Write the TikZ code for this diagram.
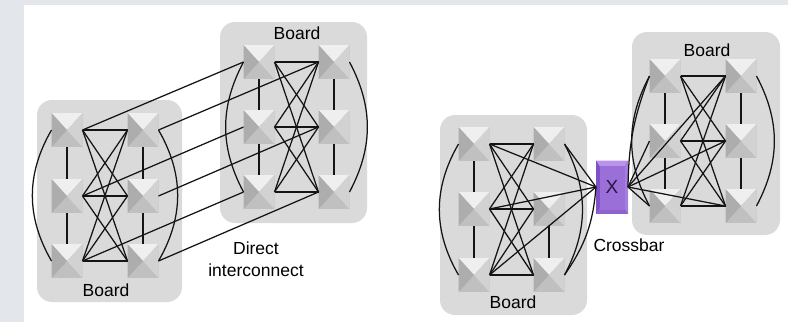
\documentclass[tikz,border=0pt]{standalone}
\usepackage{fontspec}
\setmainfont{Liberation Sans}
\definecolor{bgstrip}{HTML}{E3E6EB}
\definecolor{boardfill}{HTML}{DADADA}
\definecolor{chipT}{HTML}{EFEFEF}
\definecolor{chipL}{HTML}{ADADAD}
\definecolor{chipR}{HTML}{D2D2D2}
\definecolor{chipB}{HTML}{C0C0C0}
\definecolor{xbarM}{HTML}{9B6FD8}
\definecolor{xbarL}{HTML}{7E52C4}
\definecolor{xbarT}{HTML}{B895EA}
\definecolor{xbarR}{HTML}{A57EDE}
\definecolor{xbarB}{HTML}{8F62D0}
\definecolor{xtext}{HTML}{2A1744}
\newcommand{\chipbevel}[4]{%
  \fill[#4] (path picture bounding box.south west) rectangle (path picture bounding box.north east);
  \fill[#1] (path picture bounding box.north west) -- (path picture bounding box.north east) -- (path picture bounding box.center) -- cycle;
  \fill[#2] (path picture bounding box.north west) -- (path picture bounding box.south west) -- (path picture bounding box.center) -- cycle;
  \fill[#3] (path picture bounding box.north east) -- (path picture bounding box.south east) -- (path picture bounding box.center) -- cycle;
}
\tikzset{
  chip/.style={minimum width=31pt,minimum height=34pt,inner sep=0pt,outer sep=0pt,
    path picture={\chipbevel{chipT}{chipL}{chipR}{chipB}}},
  xbar/.style={minimum width=32pt,minimum height=53pt,inner sep=0pt,outer sep=0pt,
    path picture={\chipbevel{xbarT}{xbarL}{xbarR}{xbarB}
      \fill[xbarM] ([shift={(4pt,4pt)}]path picture bounding box.south west) rectangle ([shift={(-3pt,-5pt)}]path picture bounding box.north east);},
    text=xtext, font=\fontsize{19}{22}\selectfont},
  board/.style={fill=boardfill, rounded corners=15pt, inner sep=0pt},
  lbl/.style={font=\fontsize{17.5}{22}\selectfont, text=black, inner sep=0pt},
  conn/.style={draw=black!92, line width=1.25pt}
}
\begin{document}
\begin{tikzpicture}[x=1pt,y=1pt]
\useasboundingbox (0,0) rectangle (788,-322);
\fill[white] (0,0) rectangle (788,-322);
\fill[bgstrip] (0,0) rectangle (788,-5);
\fill[bgstrip] (0,0) rectangle (24,-322);
% boards
\node[board, minimum width=145pt, minimum height=202pt] (B1) at (109.5,-201) {};
\node[board, minimum width=147pt, minimum height=201pt] (B2) at (293.5,-122.5) {};
\node[board, minimum width=147pt, minimum height=200pt] (B3) at (513.5,-215) {};
\node[board, minimum width=148pt, minimum height=203pt] (B4) at (706,-133.5) {};
% chips
\foreach \n/\x/\y in {a1/67/130,a2/67/196,a3/67/261,a4/143/130,a5/143/196,a6/143/261,
                      b1/259/62,b2/259/127,b3/259/192,b4/334/62,b5/334/127,b6/334/192,
                      c1/474/144,c2/474/209,c3/474/275,c4/549/144,c5/549/209,c6/549/275,
                      d1/665/76,d2/665/141,d3/665/206,d4/741/76,d5/741/141,d6/741/206}
  \node[chip] (\n) at (\x,-\y) {};
\node[xbar] (xb) at (612,-187) {X};
% labels
\node[lbl] (l1) at (106,-290) {Board};
\node[lbl] (l2) at (297,-33) {Board};
\node[lbl] (l3) at (513,-302) {Board};
\node[lbl] (l4) at (707,-50) {Board};
\node[lbl, align=center] (di) at (256,-259) {Direct\\interconnect};
\node[lbl] (cb) at (629,-245) {Crossbar};
% internal full bipartite links
\foreach \b in {a,b,c,d}{
  \foreach \p in {1,2,3}{
    \foreach \q in {4,5,6}{
      \draw[conn] (\b\p.east) -- (\b\q.west);
    }
  }
}
% vertical links
\foreach \b in {a,b,d}{
  \draw[conn] (\b1.south) -- (\b2.north);
  \draw[conn] (\b2.south) -- (\b3.north);
  \draw[conn] (\b4.south) -- (\b5.north);
  \draw[conn] (\b5.south) -- (\b6.north);
}
\draw[conn] (c1.south) -- (c2.north);
\draw[conn] (c2.south) -- (c3.north);
\draw[conn] (c5.south) -- (c6.north);
% outer arcs
\draw[conn] (a1.west) to[bend right=30] (a3.west);
\draw[conn] (a4.east) to[bend left=30] (a6.east);
\draw[conn] (b1.west) to[bend right=28] (b3.west);
\draw[conn] (b4.east) to[bend left=28] (b6.east);
\draw[conn] (c1.west) to[bend right=30] (c3.west);
\draw[conn] (c4.east) to[bend left=28] (c6.east);
\draw[conn] (d1.west) to[bend right=28] (d3.west);
\draw[conn] (d4.east) to[bend left=28] (d6.east);
% direct interconnect
\draw[conn] (a1.east) -- (b1.west);
\draw[conn] (a4.east) -- (b4.west);
\draw[conn] (a2.east) -- (b2.west);
\draw[conn] (a5.east) -- (b5.west);
\draw[conn] (a3.east) -- (b3.west);
\draw[conn] (a6.east) -- (b6.west);
% crossbar links
\draw[conn] (c1.east) -- (xb.west);
\draw[conn] (c2.east) -- (xb.west);
\draw[conn] (c3.east) -- (xb.west);
\draw[conn] (c4.east) -- (xb.west);
\draw[conn] (c6.east) to[bend right=15] (xb.west);
\draw[conn] (xb.east) to[bend left=10] (d1.west);
\draw[conn] (xb.east) -- (d2.west);
\draw[conn] (xb.east) -- (d3.west);
\draw[conn] (xb.east) -- (d4.west);
\draw[conn] (xb.east) -- (d5.west);
\draw[conn] (xb.east) -- (d6.west);
\end{tikzpicture}
\end{document}
